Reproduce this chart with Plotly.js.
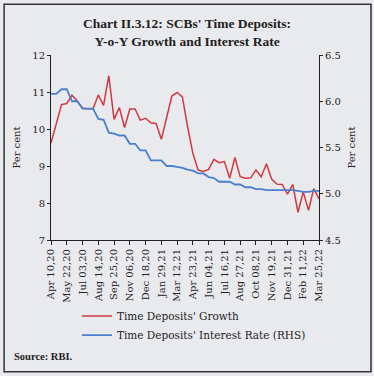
<!DOCTYPE html>
<html><head><meta charset="utf-8">
<script src="https://cdn.plot.ly/plotly-3.0.1.min.js"></script>
<style>html,body{margin:0;padding:0;background:#e9eaee;}#c{width:374px;height:376px;}</style>
</head><body><div id="c"></div>
<script>
const dates = ["Apr 10,20","Apr 24,20","May 08,20","May 22,20","Jun 05,20","Jun 19,20","Jul 03,20","Jul 17,20","Jul 31,20","Aug 14,20","Aug 28,20","Sep 11,20","Sep 25,20","Oct 09,20","Oct 23,20","Nov 06,20","Nov 20,20","Dec 04,20","Dec 18,20","Jan 01,21","Jan 15,21","Jan 29,21","Feb 12,21","Feb 26,21","Mar 12,21","Mar 26,21","Apr 09,21","Apr 23,21","May 07,21","May 21,21","Jun 04,21","Jun 18,21","Jul 02,21","Jul 16,21","Jul 30,21","Aug 13,21","Aug 27,21","Sep 10,21","Sep 24,21","Oct 08,21","Oct 22,21","Nov 05,21","Nov 19,21","Dec 03,21","Dec 17,21","Dec 31,21","Jan 14,22","Jan 28,22","Feb 11,22","Feb 25,22","Mar 11,22","Mar 25,22"];
const tickLabels = ["Apr 10,20","May 22,20","Jul 03,20","Aug 14,20","Sep 25,20","Nov 06,20","Dec 18,20","Jan 29,21","Mar 12,21","Apr 23,21","Jun 04,21","Jul 16,21","Aug 27,21","Oct 08,21","Nov 19,21","Dec 31,21","Feb 11,22","Mar 25,22"];
const growth = [9.62,10.15,10.66,10.69,10.91,10.76,10.56,10.55,10.55,10.92,10.64,11.44,10.26,10.58,10.04,10.54,10.54,10.24,10.29,10.17,10.15,9.72,10.33,10.89,10.99,10.87,10.06,9.34,8.89,8.85,8.91,9.18,9.09,9.12,8.67,9.23,8.71,8.67,8.68,8.89,8.71,9.06,8.64,8.51,8.50,8.24,8.50,7.75,8.30,7.80,8.39,8.11];
const rate = [6.08,6.08,6.13,6.13,6.00,6.00,5.92,5.92,5.92,5.81,5.80,5.66,5.65,5.63,5.63,5.54,5.54,5.47,5.47,5.36,5.36,5.36,5.30,5.30,5.29,5.28,5.26,5.25,5.22,5.22,5.18,5.17,5.13,5.13,5.13,5.10,5.10,5.07,5.07,5.05,5.05,5.04,5.04,5.04,5.04,5.04,5.04,5.03,5.02,5.02,5.03,5.03];

const serif = "DejaVu Serif";
function tf() { return {family: serif, size: 10, color: "#222222"}; }
const data = [
  {x: dates, y: growth, type: "scatter", mode: "lines", name: "Time Deposits' Growth",
   line: {color: "#d0393e", width: 1.5}, yaxis: "y"},
  {x: dates, y: rate, type: "scatter", mode: "lines", name: "Time Deposits' Interest Rate (RHS)",
   line: {color: "#4a7fcb", width: 1.8}, yaxis: "y2"}
];
const layout = {
  width: 374, height: 376,
  paper_bgcolor: "#e9eaee", plot_bgcolor: "#e9eaee",
  margin: {l: 51, r: 55, t: 55, b: 136},
  title: {text: "Chart II.3.12: SCBs' Time Deposits:<br>Y-o-Y Growth and Interest Rate",
          font: {family: "Liberation Serif", size: 13.5, color: "#222222", weight: "bold"},
          x: 0.5, xanchor: "center", yref: "container", y: 0.925, yanchor: "middle"},
  xaxis: {type: "category", range: [0, 51], tickmode: "array", tickvals: tickLabels, ticktext: tickLabels,
          tickangle: -90, tickfont: tf(), ticks: "outside", ticklen: 4, tickcolor: "#222222",
          showline: true, linecolor: "#222222", linewidth: 1, showgrid: false, zeroline: false},
  yaxis: {range: [7, 12], dtick: 1, tickfont: tf(), ticks: "outside", ticklen: 3, tickcolor: "#222222",
          showline: true, linecolor: "#222222", linewidth: 1, showgrid: false, zeroline: false,
          title: {text: "Per cent", font: tf(), standoff: 9}},
  yaxis2: {range: [4.5, 6.5], dtick: 0.5, tickformat: ".1f", overlaying: "y", side: "right",
           tickfont: tf(), ticks: "outside", ticklen: 3, tickcolor: "#222222",
           showline: true, linecolor: "#222222", linewidth: 1, showgrid: false, zeroline: false,
           title: {text: "Per cent", font: tf(), standoff: 8}},
  showlegend: true,
  legend: {x: 0.097, y: -0.333, xanchor: "left", yanchor: "top", orientation: "v",
           font: {family: serif, size: 10.5, color: "#222222"}, bgcolor: "rgba(0,0,0,0)", itemwidth: 30},
  annotations: [{text: "<b>Source: RBI.</b>", xref: "paper", yref: "paper", x: -0.145, y: -0.63,
                 xanchor: "left", yanchor: "middle", showarrow: false,
                 font: {family: "Liberation Serif", size: 10.5, color: "#222222"}}],
  shapes: [{type: "rect", xref: "paper", yref: "paper", x0: -0.175, x1: 1.194, y0: -0.712, y1: 1.274,
            line: {color: "#333333", width: 1.5}, fillcolor: "rgba(0,0,0,0)"}]
};
Plotly.newPlot("c", data, layout, {displayModeBar: false, staticPlot: true});
</script></body></html>
